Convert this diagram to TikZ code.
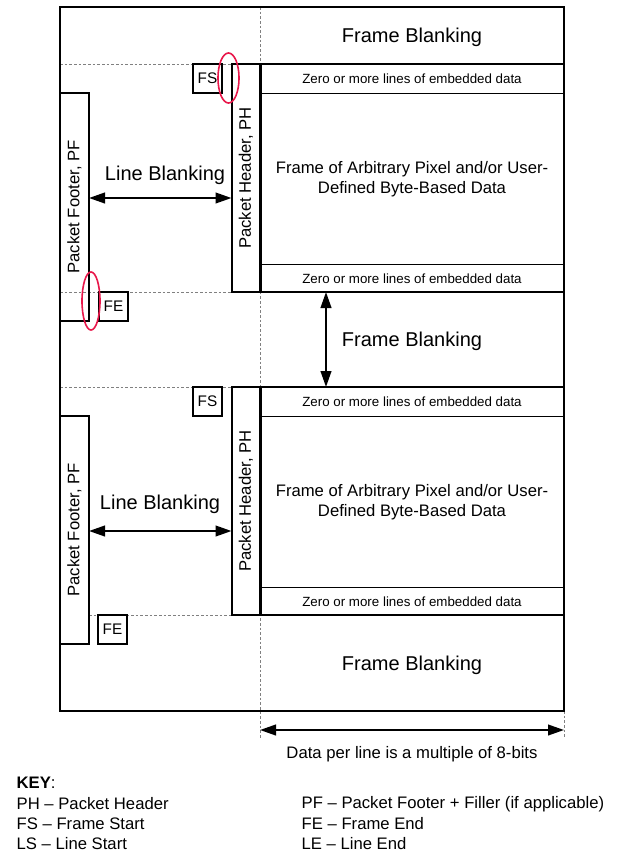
\documentclass[tikz,border=0pt]{standalone}
\usepackage{fontspec}
\setmainfont{Liberation Sans}
\usetikzlibrary{arrows.meta}
\definecolor{markred}{RGB}{232,23,74}
\begin{document}
\begin{tikzpicture}[x=0.75pt,y=-0.75pt,
  thickline/.style={line width=1.5pt},
  thinline/.style={line width=0.75pt},
  guide/.style={line width=0.6pt,gray,dash pattern=on 2pt off 1.5pt},
  tagbox/.style={draw,line width=1.5pt,inner sep=0pt,outer sep=0pt,minimum width=21.75pt,minimum height=21.75pt,font=\fontsize{11.5}{13}\selectfont},
  bar/.style={draw,line width=1.5pt,inner sep=0pt,outer sep=0pt,minimum width=21.75pt,minimum height=171pt},
  datafield/.style={draw,line width=1.5pt,inner sep=0pt,outer sep=0pt,minimum width=228pt,minimum height=171pt},
  bigtext/.style={font=\fontsize{15}{18}\selectfont},
  midtext/.style={font=\fontsize{12.5}{15}\selectfont},
  smalltext/.style={font=\fontsize{10}{12}\selectfont},
  dbl/.style={{Triangle[length=12pt,width=8pt]}-{Triangle[length=12pt,width=8pt]},line width=1.5pt},
  oval/.style={draw=markred,line width=1.2pt}]
\useasboundingbox (0,0) rectangle (624,861);

\draw[guide] (260,7) -- (260,738);
\draw[guide] (564,711) -- (564,738);
\draw[guide] (60,64) -- (232,64);
\draw[guide] (60,292) -- (232,292);
\draw[guide] (60,387) -- (232,387);
\draw[guide] (89,615) -- (232,615);

\draw[thickline] (60,7) rectangle (564,711);

\node[datafield] (dataA) at (412,178) {};
\node[datafield] (dataB) at (412,501) {};
\draw[thinline] (260,93) -- (564,93);
\draw[thinline] (260,264) -- (564,264);
\draw[thinline] (260,416) -- (564,416);
\draw[thinline] (260,587) -- (564,587);

\node[smalltext] (embA1) at (412,79) {Zero or more lines of embedded data};
\node[smalltext] (embA2) at (412,278.5) {Zero or more lines of embedded data};
\node[smalltext] (embB1) at (412,402) {Zero or more lines of embedded data};
\node[smalltext] (embB2) at (412,601.5) {Zero or more lines of embedded data};
\node[midtext,align=center] (pixA) at (412,179.5) {Frame of Arbitrary Pixel and/or User-\\Defined Byte-Based Data};
\node[midtext,align=center] (pixB) at (412,502.5) {Frame of Arbitrary Pixel and/or User-\\Defined Byte-Based Data};

\node[bigtext] (fbTop) at (412,37) {Frame Blanking};
\node[bigtext] (fbMid) at (412,341) {Frame Blanking};
\node[bigtext] (fbBot) at (412,665) {Frame Blanking};

\node[bar] (phA) at (246,178) {};
\node[midtext,rotate=90] (phAlbl) at (phA) {Packet Header, PH};
\node[bar] (pfA) at (74.5,207) {};
\node[midtext,rotate=90] (pfAlbl) at (pfA) {Packet Footer, PF};
\node[bar] (phB) at (246,501) {};
\node[midtext,rotate=90] (phBlbl) at (phB) {Packet Header, PH};
\node[bar] (pfB) at (74.5,530) {};
\node[midtext,rotate=90] (pfBlbl) at (pfB) {Packet Footer, PF};

\node[tagbox] (fsA) at (207.5,78.5) {FS};
\node[tagbox] (feA) at (113.5,306.5) {FE};
\node[tagbox] (fsB) at (207.5,401.5) {FS};
\node[tagbox] (feB) at (112.5,629.5) {FE};

\coordinate (lbA) at (0,198);
\coordinate (lbB) at (0,531);
\node[bigtext] (lbAlbl) at (165,175) {Line Blanking};
\node[bigtext] (lbBlbl) at (160,504) {Line Blanking};
\draw[dbl] (pfA.east |- lbA) -- (phA.west |- lbA);
\draw[dbl] (pfB.east |- lbB) -- (phB.west |- lbB);

\coordinate (fbx) at (326,340);
\draw[dbl] (dataA.south -| fbx) -- (dataB.north -| fbx);

\coordinate (wl) at (260,730);
\coordinate (wr) at (564,730);
\draw[dbl] (wl) -- (wr);
\node[midtext] (widthlbl) at (412,754) {Data per line is a multiple of 8-bits};

\draw[oval] (228.5,78) ellipse [x radius=7.9pt, y radius=18.75pt];
\draw[oval] (91,301) ellipse [x radius=6.75pt, y radius=21.75pt];

\node[midtext,anchor=west] (keyhead) at (12,783) {\textbf{KEY}:};
\node[midtext,anchor=west] (keyph) at (12,804) {PH -- Packet Header};
\node[midtext,anchor=west] (keyfs) at (12,824) {FS -- Frame Start};
\node[midtext,anchor=west] (keyls) at (12,844) {LS -- Line Start};
\node[midtext,anchor=west] (keypf) at (297,804) {PF -- Packet Footer + Filler (if applicable)};
\node[midtext,anchor=west] (keyfe) at (297,824) {FE -- Frame End};
\node[midtext,anchor=west] (keyle) at (297,844) {LE -- Line End};
\end{tikzpicture}
\end{document}
